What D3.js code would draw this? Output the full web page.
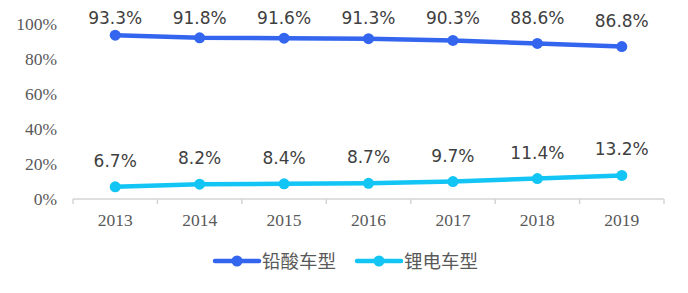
<!DOCTYPE html>
<html>
<head>
<meta charset="utf-8">
<script src="https://cdn.jsdelivr.net/npm/d3@7"></script>
<style>
  html, body { margin: 0; padding: 0; background: #fff; }
  svg { display: block; }
</style>
</head>
<body>
<svg id="chart" width="688" height="293"></svg>
<script>
const years = ['2013', '2014', '2015', '2016', '2017', '2018', '2019']
const leadAcid = [93.3, 91.8, 91.6, 91.3, 90.3, 88.6, 86.8]
const lithium = [6.7, 8.2, 8.4, 8.7, 9.7, 11.4, 13.2]
const yTicks = [0, 20, 40, 60, 80, 100]
const seriesNames = ['铅酸车型', '锂电车型']
const seriesColors = ['#3465ef', '#12c5f4']

const svg = d3.select('#chart')

const x = d3.scaleBand().domain(years).range([73, 664])
const y = d3.scaleLinear().domain([0, 100]).range([198.5, 23.5])

// x axis: light grey line with ticks at the band edges
const xAxis = svg.append('g')
const axisColor = '#d4d4d4'
xAxis.append('line')
  .attr('x1', x.range()[0]).attr('x2', x.range()[1])
  .attr('y1', 199).attr('y2', 199)
  .style('stroke', axisColor).style('stroke-width', 1.5)
const edges = years.map(d => x(d)).concat([x.range()[1]])
xAxis.selectAll('.tick').data(edges).enter().append('line')
  .attr('x1', d => d).attr('x2', d => d)
  .attr('y1', 199).attr('y2', 204)
  .style('stroke', axisColor).style('stroke-width', 1.5)
xAxis.selectAll('.xlabel').data(years).enter().append('text')
  .attr('x', d => x(d) + x.bandwidth() / 2)
  .attr('y', 226)
  .attr('text-anchor', 'middle')
  .style('font-family', '"Liberation Serif", "DejaVu Serif", serif')
  .style('font-size', '17.5px')
  .style('fill', '#595959')
  .text(d => d)

// y axis labels only, no line
svg.selectAll('.ylabel').data(yTicks).enter().append('text')
  .attr('x', 57)
  .attr('y', d => y(d) + 6)
  .attr('text-anchor', 'end')
  .style('font-family', '"Liberation Serif", "DejaVu Serif", serif')
  .style('font-size', '17.5px')
  .style('fill', '#595959')
  .text(d => d + '%')

const series = [leadAcid, lithium]
const line = d3.line()
  .x((v, i) => x(years[i]) + x.bandwidth() / 2)
  .y(v => y(v))

series.forEach((values, s) => {
  const g = svg.append('g')
  g.append('path')
    .datum(values)
    .attr('d', line)
    .style('fill', 'none')
    .style('stroke', seriesColors[s])
    .style('stroke-width', 4.5)
    .style('stroke-linecap', 'round')
  g.selectAll('circle').data(values).enter().append('circle')
    .attr('cx', (v, i) => x(years[i]) + x.bandwidth() / 2)
    .attr('cy', v => y(v))
    .attr('r', 5.5)
    .style('fill', seriesColors[s])
  // labels sit 20px above the point, but never above the plot top
  g.selectAll('text').data(values).enter().append('text')
    .attr('x', (v, i) => x(years[i]) + x.bandwidth() / 2)
    .attr('y', v => Math.max(y(v) - 20, 23.5))
    .attr('text-anchor', 'middle')
    .style('font-family', '"DejaVu Sans", sans-serif')
    .style('font-size', '17px')
    .style('fill', '#404040')
    .text(v => v.toFixed(1) + '%')
})

// legend
const legend = svg.append('g')
const legendX = [215, 357]
seriesNames.forEach((name, s) => {
  const lx = legendX[s]
  legend.append('line')
    .attr('x1', lx).attr('x2', lx + 44)
    .attr('y1', 261).attr('y2', 261)
    .style('stroke', seriesColors[s])
    .style('stroke-width', 4.5)
    .style('stroke-linecap', 'round')
  legend.append('circle')
    .attr('cx', lx + 22).attr('cy', 261).attr('r', 5.5)
    .style('fill', seriesColors[s])
  legend.append('text')
    .attr('x', lx + 47)
    .attr('y', 268)
    .style('font-family', '"Noto Sans CJK SC", sans-serif')
    .style('font-size', '18.5px')
    .style('fill', '#595959')
    .text(name)
})
</script>
</body>
</html>
